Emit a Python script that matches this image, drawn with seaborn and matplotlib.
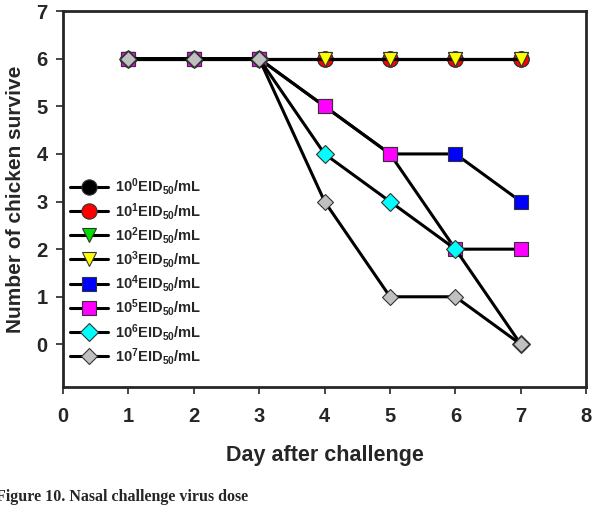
import matplotlib
matplotlib.use("Agg")
import matplotlib.pyplot as plt
import pandas as pd
import seaborn as sns

# survival per dose group, days 1..7
days = [1, 2, 3, 4, 5, 6, 7]
dose_labels = [
    r"$\mathbf{10^{0}EID_{50}/mL}$",
    r"$\mathbf{10^{1}EID_{50}/mL}$",
    r"$\mathbf{10^{2}EID_{50}/mL}$",
    r"$\mathbf{10^{3}EID_{50}/mL}$",
    r"$\mathbf{10^{4}EID_{50}/mL}$",
    r"$\mathbf{10^{5}EID_{50}/mL}$",
    r"$\mathbf{10^{6}EID_{50}/mL}$",
    r"$\mathbf{10^{7}EID_{50}/mL}$",
]
dose0 = [6, 6, 6, 6, 6, 6, 6]
dose1 = [6, 6, 6, 6, 6, 6, 6]
dose2 = [6, 6, 6, 6, 6, 6, 6]
dose3 = [6, 6, 6, 6, 6, 6, 6]
dose4 = [6, 6, 6, 5, 4, 4, 3]
dose5 = [6, 6, 6, 5, 4, 2, 2]
dose6 = [6, 6, 6, 4, 3, 2, 0]
dose7 = [6, 6, 6, 3, 1, 1, 0]
series = [dose0, dose1, dose2, dose3, dose4, dose5, dose6, dose7]

face_colors = ["black", "red", "#00e000", "yellow", "blue", "magenta", "cyan", "#c0c0c0"]
markers = ["o", "o", "v", "v", "s", "s", "D", "D"]
sizes = [11, 11, 10, 10, 10, 10, 9, 8]

sns.set_style("ticks")
plt.rcParams["font.family"] = ["Liberation Sans", "DejaVu Sans"]
plt.rcParams["mathtext.fontset"] = "custom"
plt.rcParams["mathtext.bf"] = "Liberation Sans:bold"
plt.rcParams["mathtext.rm"] = "Liberation Sans"

fig = plt.figure(figsize=(5.94, 5.29), dpi=100)
ax = fig.add_axes([0.106, 0.268, 0.881, 0.711])

for vals, lab, fc, mk, ms in zip(series, dose_labels, face_colors, markers, sizes):
    df = pd.DataFrame({"day": days, "n": vals})
    sns.lineplot(
        data=df, x="day", y="n", ax=ax, label=lab,
        color="black", linewidth=2.2,
        marker=mk, markersize=ms, markerfacecolor=fc,
        markeredgecolor="#333333", markeredgewidth=0.8,
    )

ax.set_xlim(0, 8)
ax.set_ylim(-0.9, 7)
ax.set_xticks(range(0, 9))
ax.set_yticks(range(0, 8))
for sp in ax.spines.values():
    sp.set_linewidth(2)
    sp.set_visible(True)
ax.tick_params(direction="out", length=5, width=1.2, labelsize=14.5)
ax.tick_params(axis="x", pad=9)
ax.tick_params(axis="y", pad=6)
for t in ax.get_xticklabels() + ax.get_yticklabels():
    t.set_fontweight("bold")

ax.set_xlabel("Day after challenge", fontsize=15.5, fontweight="bold", labelpad=14)
ax.set_ylabel("Number of chicken survive", fontsize=15, fontweight="bold", labelpad=8)

ax.legend(
    loc="upper left", bbox_to_anchor=(0.0, 0.58), frameon=False,
    fontsize=10.5, handlelength=2.6, labelspacing=0.22, handletextpad=0.5,
    borderaxespad=0.2, borderpad=0.3,
)

fig.text(-0.006, 0.06, "Figure 10. Nasal challenge virus dose",
         fontsize=11.5, fontweight="bold", family=["Liberation Serif"],
         ha="left", va="center")

fig.savefig("out.png", dpi=100)
